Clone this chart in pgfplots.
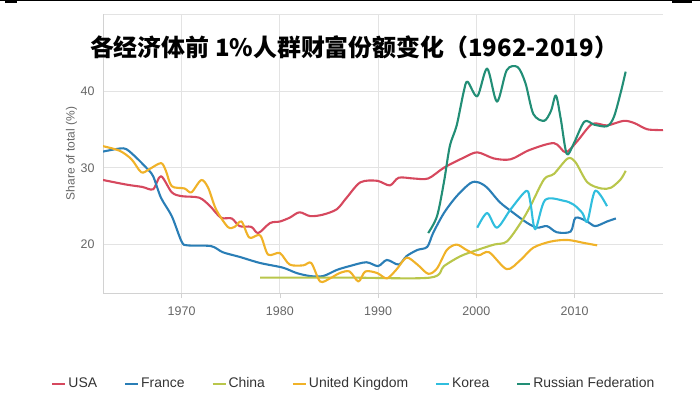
\documentclass[border=0pt]{standalone}
\usepackage{pgfplots}
\pgfplotsset{compat=1.18}
\usepackage{fontspec}
\setmainfont{Liberation Sans}
\newfontfamily\cjk{Noto Sans CJK SC}
\definecolor{cusa}{RGB}{214,72,94}
\definecolor{cfra}{RGB}{42,126,182}
\definecolor{cchn}{RGB}{185,198,75}
\definecolor{cuk}{RGB}{240,178,40}
\definecolor{ckor}{RGB}{48,190,222}
\definecolor{crus}{RGB}{34,142,118}
\definecolor{tickgray}{RGB}{102,102,102}
\definecolor{leggray}{RGB}{51,51,51}
\begin{document}
\begin{tikzpicture}
\useasboundingbox (0,0) rectangle (700bp,399bp);
\fill[black] (0,398bp) rectangle (700bp,399bp);
\fill[black] (5bp,395.5bp) rectangle (17bp,399bp);
\fill[black] (672bp,395.5bp) rectangle (692bp,399bp);
\begin{axis}[
  at={(103bp,106bp)}, anchor=south west, scale only axis,
  width=560bp, height=279bp,
  xmin=1962, xmax=2019, ymin=13.7, ymax=50,
  xtick={1970,1980,1990,2000,2010},
  ytick={20,30,40,50}, yticklabels={20,30,40,{}},
  /pgf/number format/1000 sep={},
  /pgf/number format/assume math mode=true,
  axis lines*=left,
  axis line style={-, draw=gray!35, line width=0.8pt},
  grid=major, major grid style={draw=gray!22, line width=0.7pt},
  tick align=outside, major tick length=5bp,
  xtick style={draw=gray!35}, ytick style={draw=none},
  tick label style={font=\fontsize{12.5}{14}\selectfont, text=tickgray},
  xticklabel style={yshift=-5bp},
  ylabel={Share of total (\%)},
  ylabel style={font=\fontsize{12}{14}\selectfont, text=tickgray, at={(axis description cs:-0.056,0.5)}, anchor=center},
  every axis plot/.append style={line width=2.1bp, smooth, tension=0.5, line join=round},
  legend columns=6,
  legend style={at={(axis description cs:0.448,-0.325)}, anchor=center, draw=none, fill=none,
    font=\fontsize{14}{16}\selectfont, text=leggray,
    /tikz/every even column/.append style={column sep=25bp}},
  legend image code/.code={\draw[#1, line width=2bp, sharp plot] (0bp,0bp) -- (13bp,0bp);},
]
\addplot[cusa] coordinates {
(1962,28.4) (1964.4,27.8) (1966,27.5) (1967.1,27.2) (1967.9,28.9) (1969,26.8) (1970,26.3)
(1971.8,26.1) (1972.9,25.0) (1974,23.5) (1975.1,23.4) (1975.9,22.4) (1977.1,22.3) (1977.8,21.5)
(1979,22.8) (1980,23.0) (1981,23.5) (1982,24.2) (1983.1,23.7) (1984.4,23.9) (1985.8,24.6)
(1986.8,26.1) (1988.2,28.1) (1989.9,28.3) (1991.2,27.7) (1992.1,28.7) (1993.6,28.6) (1995.1,28.6)
(1996.7,30.0) (1998.7,31.3) (2000.1,32.0) (2001.8,31.2) (2003.5,31.1) (2005.4,32.3) (2007.9,33.2)
(2009.1,32.0) (2010.3,33.5) (2011.8,35.7) (2013.3,35.5) (2015,36.1) (2016.1,35.8) (2017.4,35.0) (2019,34.9)};
\addlegendentry{USA}
\addplot[cfra] coordinates {
(1962,32.1) (1963.7,32.5) (1964.4,32.4) (1965.4,31.3) (1966.4,30.0) (1967.1,28.9) (1967.9,26.1)
(1969,23.7) (1970,20.4) (1970.6,19.9) (1973,19.8) (1974.2,19.0) (1975.9,18.4) (1978,17.6)
(1980.3,17.0) (1981.7,16.3) (1983.1,15.9) (1984.4,15.9) (1985.8,16.7) (1987.1,17.2) (1988.8,17.7)
(1990.0,17.2) (1990.9,18.0) (1992.1,17.4) (1992.9,18.5) (1994,19.3) (1995,19.7) (1995.6,21.5)
(1996.7,24.1) (1998,26.3) (1999.4,28.0) (2000.2,28.1) (2001.1,27.4) (2002.4,25.5) (2003.8,24.1)
(2005.2,22.8) (2006.2,22.2) (2007.2,22.4) (2008.2,21.6) (2009.6,21.7) (2010.1,23.5) (2011.3,23.0)
(2012.1,22.4) (2013.3,23.0) (2014.2,23.4)};
\addlegendentry{France}
\addplot[cchn] coordinates {
(1978,15.7) (1987,15.7) (1995.3,15.7) (1996.7,17.2) (1998.4,18.5) (2000.1,19.3) (2001.8,20.0)
(2003.1,20.4) (2004.5,22.8) (2005.5,25.0) (2006.9,28.5) (2007.9,29.2) (2009.3,31.2) (2010.1,30.7)
(2011.3,28.1) (2012.7,27.3) (2013.7,27.4) (2014.7,28.5) (2015.2,29.6)};
\addlegendentry{China}
\addplot[cuk] coordinates {
(1962,32.8) (1963.7,32.2) (1964.9,31.1) (1965.9,29.4) (1966.7,29.8) (1967.9,30.6) (1968.4,29.6)
(1969,27.6) (1970.3,27.3) (1971,26.8) (1972,28.4) (1972.7,27.4) (1973.5,24.6) (1974.7,22.3)
(1975.4,22.3) (1976.1,23.0) (1976.9,20.9) (1978,21.2) (1978.8,18.7) (1980,18.9) (1981,17.4)
(1982.4,17.3) (1983.2,17.6) (1984.1,15.2) (1985.1,15.6) (1986.1,16.3) (1987.1,16.5) (1988,15.2)
(1988.7,16.5) (1989.9,16.3) (1990.9,15.6) (1991.9,16.8) (1992.9,18.3) (1994,17.4) (1995.1,16.2)
(1996,16.9) (1997,19.3) (1998,20.0) (1999,19.3) (2000.2,18.6) (2001.3,19.0) (2003.1,16.8)
(2004.5,18.0) (2005.8,19.6) (2007.6,20.4) (2009.3,20.6) (2011,20.2) (2012.3,19.9)};
\addlegendentry{United Kingdom}
\addplot[ckor] coordinates {
(2000.1,22.2) (2001.1,24.1) (2002.1,22.2) (2003.5,24.6) (2005.1,27.0) (2005.5,25.5) (2006,22.0)
(2007,25.8) (2008.9,25.7) (2009.9,25.2) (2010.8,24.1) (2011.3,23.0) (2012.1,27.0) (2013.3,25.0)};
\addlegendentry{Korea}
\addplot[crus] coordinates {
(1995.1,21.5) (1996,23.7) (1996.7,28.1) (1997.3,32.8) (1998,35.5) (1998.7,39.8) (1999.1,41.2)
(2000.1,39.3) (2001.1,42.9) (2002.1,38.6) (2003.1,42.7) (2004.2,43.1) (2005.0,41.0) (2005.8,37.0)
(2006.9,36.1) (2007.6,37.4) (2008.1,39.4) (2008.6,36.3) (2009.2,31.8) (2009.9,33.1) (2011,36.0)
(2012,35.6) (2013.3,35.4) (2014,36.6) (2014.7,39.8) (2015.2,42.5)};
\addlegendentry{Russian Federation}
\end{axis}
\node[font=\cjk\bfseries\fontsize{24}{29}\selectfont, anchor=center] at (354bp,352bp) {各经济体前 1\%人群财富份额变化（1962-2019）};
\end{tikzpicture}
\end{document}
